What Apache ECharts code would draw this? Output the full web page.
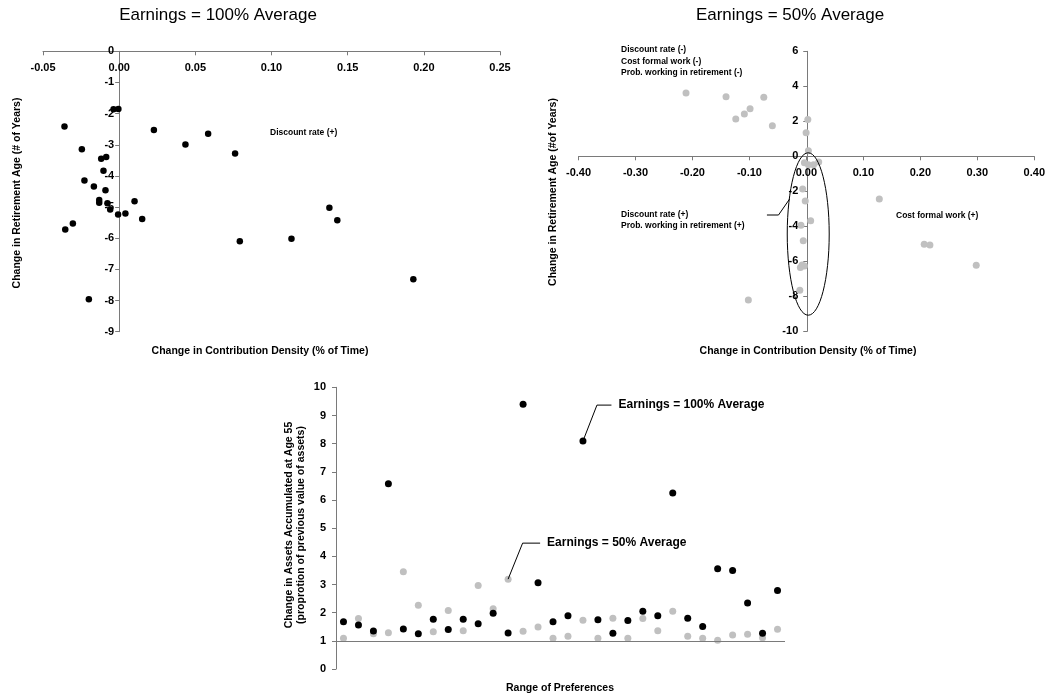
<!DOCTYPE html>
<html>
<head>
<meta charset="utf-8">
<script src="https://cdn.jsdelivr.net/npm/echarts@6/dist/echarts.min.js"></script>
<style>
  html, body { margin: 0; padding: 0; background: #ffffff; }
  #chart { width: 1048px; height: 696px; }
</style>
</head>
<body>
<div id="chart"></div>
<script>
// Earnings = 100% of average: change in contribution density (x) vs change in retirement age (y)
const fullDensity = [-0.0359, -0.0037, -0.0005, 0.0228, 0.0435, 0.0584, 0.0761, -0.0245, -0.0118, -0.0085,
  -0.0103, -0.0228, -0.0166, -0.0090, -0.0131, -0.0131, -0.0077, -0.0059, -0.0007, 0.0041,
  0.0101, 0.0151, -0.0354, -0.0304, 0.0792, -0.0199, 0.1380, 0.1432, 0.1131, 0.1931];
const fullRetAge = [-2.41, -1.86, -1.85, -2.53, -2.99, -2.65, -3.28, -3.14, -3.45, -3.39,
  -3.83, -4.15, -4.34, -4.46, -4.77, -4.86, -4.88, -5.08, -5.24, -5.21,
  -4.81, -5.38, -5.72, -5.53, -6.10, -7.96, -5.02, -5.42, -6.02, -7.32];

// Earnings = 50% of average
const halfDensity = [-0.212, -0.142, -0.076, -0.100, -0.110, -0.125, -0.061, 0.001, -0.002, 0.002,
  -0.005, 0.002, 0.011, 0.020, -0.008, -0.0035, 0.006, -0.011, -0.007, -0.009,
  -0.012, -0.005, -0.013, 0.126, 0.2045, 0.2145, 0.2955, -0.103];
const halfRetAge = [3.62, 3.41, 3.37, 2.72, 2.42, 2.13, 1.75, 2.10, 1.35, 0.32,
  -0.37, -0.48, -0.48, -0.33, -1.87, -2.55, -3.68, -3.94, -4.82, -6.21,
  -6.36, -6.27, -7.66, -2.44, -5.03, -5.07, -6.23, -8.21];

// Change in assets accumulated at age 55, one value per preference set
const preferenceSets = ['P1', 'P2', 'P3', 'P4', 'P5', 'P6', 'P7', 'P8', 'P9', 'P10',
  'P11', 'P12', 'P13', 'P14', 'P15', 'P16', 'P17', 'P18', 'P19', 'P20',
  'P21', 'P22', 'P23', 'P24', 'P25', 'P26', 'P27', 'P28', 'P29', 'P30'];
const assetsFull = [1.68, 1.56, 1.35, 6.58, 1.42, 1.25, 1.77, 1.40, 1.77, 1.61,
  1.98, 1.28, 9.40, 3.06, 1.68, 1.89, 8.09, 1.75, 1.27, 1.72,
  2.05, 1.89, 6.25, 1.80, 1.51, 3.56, 3.50, 2.34, 1.27, 2.79];
const assetsHalf = [1.09, 1.79, 1.25, 1.29, 3.45, 2.26, 1.32, 2.08, 1.36, 2.96,
  2.14, 3.19, 1.34, 1.49, 1.09, 1.16, 1.73, 1.09, 1.80, 1.09,
  1.79, 1.36, 2.05, 1.16, 1.09, 1.02, 1.21, 1.23, 1.11, 1.41];

const FONT = 'Liberation Sans, Arial, Helvetica, sans-serif';
const AXIS_GREY = '#7a7a7a';
const LIGHT = '#c0c0c0';

// Panel boxes (pixels)
const LEFT_PANEL = { left: 43, top: 51.3, width: 457, height: 280.4 };
const RIGHT_PANEL = { left: 578.5, top: 51.3, width: 457.5, height: 280 };
const LOWER_PANEL = { left: 336, top: 387.3, width: 449, height: 281.7 };

const LX = [-0.05, 0.25, 0.05], LY = [-9, 0, 1];
const RX = [-0.4, 0.4, 0.1], RY = [-10, 6, 2];

function pairs(xs, ys) { return xs.map((x, i) => [x, ys[i]]); }

// pixel offset of value v inside [min, max] over a length
function offsetOf(v, min, max, len) { return (v - min) / (max - min) * len; }

const hidden = { axisLine: { show: false }, axisTick: { show: false }, axisLabel: { show: false }, splitLine: { show: false } };

function shownAxis(grid, r, labelMargin, fmt) {
  return {
    gridIndex: grid, type: 'value', min: r[0], max: r[1], interval: r[2],
    axisLine: { show: true, onZero: false, lineStyle: { color: AXIS_GREY, width: 1 } },
    axisTick: { show: true, length: 4, lineStyle: { color: AXIS_GREY } },
    axisLabel: { show: true, margin: labelMargin, color: '#000', fontFamily: FONT, fontWeight: 'bold', fontSize: 11,
      formatter: fmt },
    splitLine: { show: false }
  };
}
function hiddenAxis(grid, r) {
  return Object.assign({ gridIndex: grid, type: 'value', min: r[0], max: r[1], interval: r[2] }, hidden);
}
const fix2 = v => v.toFixed(2);

// Axis that crosses the panel at the other axis' zero
const leftZeroY = LEFT_PANEL.top + offsetOf(LY[1], LY[0], LY[1], 0) + (LY[1] - 0) / (LY[1] - LY[0]) * LEFT_PANEL.height;
const leftZeroX = LEFT_PANEL.left + offsetOf(0, LX[0], LX[1], LEFT_PANEL.width);
const rightZeroY = RIGHT_PANEL.top + (RY[1] - 0) / (RY[1] - RY[0]) * RIGHT_PANEL.height;
const rightZeroX = RIGHT_PANEL.left + offsetOf(0, RX[0], RX[1], RIGHT_PANEL.width);

function txt(x, y, text, size, weight, align, rot) {
  return {
    type: 'text', x: x, y: y, rotation: rot || 0, silent: true,
    style: {
      text: text, fill: '#000', font: (weight || 'bold') + ' ' + size + 'px ' + FONT,
      align: align || 'left', verticalAlign: 'middle',
      textAlign: align || 'left', textVerticalAlign: 'middle'
    }
  };
}

// Ellipse around the points clustered on the vertical axis (data units of the right panel)
const RING = { cx: 0.0017, cy: -4.44, rx: 0.0367, ry: 4.64 };

// Leader line + label drawn next to a chosen point
function calloutSeries(xIdx, yIdx, point, d1, d2, label) {
  return {
    type: 'custom', xAxisIndex: xIdx, yAxisIndex: yIdx, silent: true, z: 5,
    data: [point],
    renderItem: function (params, api) {
      const p = api.coord([api.value(0), api.value(1)]);
      const a = [p[0] + d1[0], p[1] + d1[1]];
      const b = [p[0] + d2[0], p[1] + d2[1]];
      return {
        type: 'group', children: [
          { type: 'polyline', shape: { points: [p, a, b] },
            style: { fill: 'none', stroke: '#000', lineWidth: 1 } },
          { type: 'text', x: b[0] + 7, y: b[1],
            style: { text: label, fill: '#000', font: 'bold 12px ' + FONT,
              align: 'left', verticalAlign: 'middle', textAlign: 'left', textVerticalAlign: 'middle' } }
        ]
      };
    }
  };
}

const option = {
  animation: false,
  backgroundColor: '#ffffff',
  grid: [
    LEFT_PANEL,                                             // 0 data, left
    RIGHT_PANEL,                                            // 1 data, right
    LOWER_PANEL,                                            // 2 data, lower
    { left: LEFT_PANEL.left, width: LEFT_PANEL.width, top: leftZeroY - 10, height: 10 },        // 3 x axis at y = 0
    { left: leftZeroX, width: LEFT_PANEL.left + LEFT_PANEL.width - leftZeroX, top: LEFT_PANEL.top, height: LEFT_PANEL.height }, // 4 y axis at x = 0
    { left: RIGHT_PANEL.left, width: RIGHT_PANEL.width, top: RIGHT_PANEL.top, height: rightZeroY - RIGHT_PANEL.top }, // 5 x axis at y = 0
    { left: rightZeroX, width: RIGHT_PANEL.left + RIGHT_PANEL.width - rightZeroX, top: RIGHT_PANEL.top, height: RIGHT_PANEL.height } // 6 y axis at x = 0
  ],
  xAxis: [
    hiddenAxis(0, LX),
    hiddenAxis(1, RX),
    { gridIndex: 2, type: 'category', data: preferenceSets, boundaryGap: true,
      axisLine: { show: false }, axisTick: { show: false }, axisLabel: { show: false },
      splitLine: { show: false } },
    Object.assign(shownAxis(3, LX, 11, fix2), { position: 'bottom' }),
    hiddenAxis(4, [0, 1, 1]),
    Object.assign(shownAxis(5, RX, 11, fix2), { position: 'bottom' }),
    hiddenAxis(6, [0, 1, 1])
  ],
  yAxis: [
    hiddenAxis(0, LY),
    hiddenAxis(1, RY),
    Object.assign(shownAxis(2, [0, 10, 1], 10), { position: 'left' }),
    hiddenAxis(3, [0, 1, 1]),
    Object.assign(shownAxis(4, LY, 5), { position: 'left' }),
    hiddenAxis(5, [0, 1, 1]),
    Object.assign(shownAxis(6, RY, 9), { position: 'left' })
  ],
  series: [
    { name: 'Earnings = 100% Average', type: 'scatter', xAxisIndex: 0, yAxisIndex: 0,
      data: pairs(fullDensity, fullRetAge), symbolSize: 6.5, z: 3,
      itemStyle: { color: '#000', opacity: 1 } },
    { name: 'Earnings = 50% Average', type: 'scatter', xAxisIndex: 1, yAxisIndex: 1,
      data: pairs(halfDensity, halfRetAge), symbolSize: 7, z: 3,
      itemStyle: { color: LIGHT, opacity: 1 } },
    {
      type: 'custom', xAxisIndex: 1, yAxisIndex: 1, silent: true, z: 4,
      data: [[RING.cx, RING.cy]],
      renderItem: function (params, api) {
        const c = api.coord([api.value(0), api.value(1)]);
        const s = api.size([RING.rx, RING.ry]);
        return {
          type: 'group', children: [
            { type: 'ellipse', shape: { cx: c[0], cy: c[1], rx: s[0], ry: s[1] },
              style: { fill: 'none', stroke: '#000', lineWidth: 1 } },
            { type: 'polyline',
              shape: { points: [[c[0] - 0.89 * s[0], c[1] - 0.43 * s[1]], [c[0] - 29.7, c[1] - 19], [c[0] - 41.3, c[1] - 19]] },
              style: { fill: 'none', stroke: '#000', lineWidth: 1 } }
          ]
        };
      }
    },
    { name: 'Earnings = 50% Average', type: 'scatter', xAxisIndex: 2, yAxisIndex: 2,
      data: assetsHalf, symbolSize: 7, z: 2,
      itemStyle: { color: LIGHT, opacity: 1 } },
    { name: 'Earnings = 100% Average', type: 'scatter', xAxisIndex: 2, yAxisIndex: 2,
      data: assetsFull, symbolSize: 7, z: 3,
      itemStyle: { color: '#000', opacity: 1 },
      markLine: { silent: true, symbol: 'none', label: { show: false },
        lineStyle: { color: AXIS_GREY, width: 1, type: 'solid' },
        data: [{ yAxis: 1 }] } },
    calloutSeries(2, 2, [16, assetsFull[16]], [14, -36], [28.5, -36], 'Earnings = 100% Average'),
    calloutSeries(2, 2, [11, assetsHalf[11]], [14.5, -36], [32, -36], 'Earnings = 50% Average')
  ],
  graphic: [
    txt(218, 15, 'Earnings = 100% Average', 17, 'normal', 'center'),
    txt(790, 15, 'Earnings = 50% Average', 17, 'normal', 'center'),
    txt(260, 351, 'Change in Contribution Density (% of Time)', 10.5, 'bold', 'center'),
    txt(808, 351, 'Change in Contribution Density (% of Time)', 10.5, 'bold', 'center'),
    txt(17, 193, 'Change in Retirement Age (# of Years)', 10.5, 'bold', 'center', Math.PI / 2),
    txt(553, 192, 'Change in Retirement Age (#of Years)', 10.5, 'bold', 'center', Math.PI / 2),
    txt(289, 525, 'Change in Assets Accumulated at Age 55', 10.5, 'bold', 'center', Math.PI / 2),
    txt(301, 525, '(proprotion of previous value of assets)', 10.5, 'bold', 'center', Math.PI / 2),
    txt(560, 688, 'Range of Preferences', 10.5, 'bold', 'center'),
    txt(270, 133, 'Discount rate (+)', 8.5, 'bold', 'left'),
    txt(621, 50, 'Discount rate (-)', 8.5, 'bold', 'left'),
    txt(621, 61.3, 'Cost formal work (-)', 8.5, 'bold', 'left'),
    txt(621, 72.3, 'Prob. working in retirement (-)', 8.5, 'bold', 'left'),
    txt(621, 214.3, 'Discount rate (+)', 8.5, 'bold', 'left'),
    txt(621, 226, 'Prob. working in retirement (+)', 8.5, 'bold', 'left'),
    txt(896, 216, 'Cost formal work (+)', 8.5, 'bold', 'left')
  ]
};

const chart = echarts.init(document.getElementById('chart'), null, { renderer: 'canvas' });
chart.setOption(option);
</script>
</body>
</html>
